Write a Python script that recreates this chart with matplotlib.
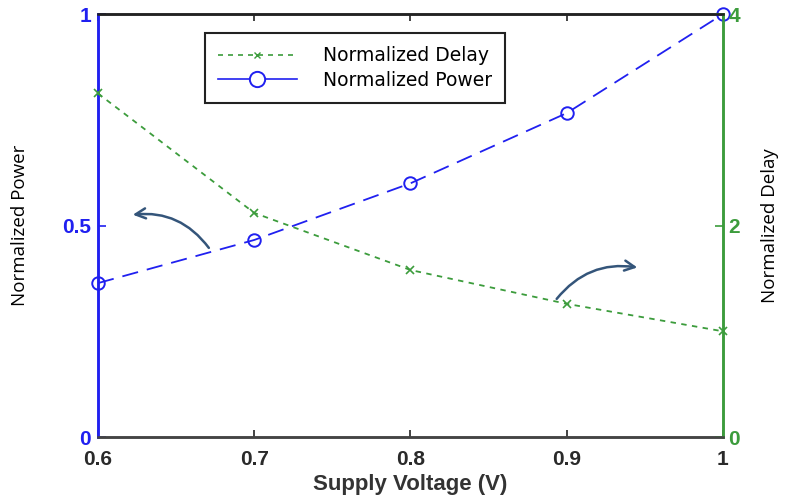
import numpy as np
import matplotlib.pyplot as plt
from matplotlib.lines import Line2D

# supply voltage sweep and normalised results
voltage = [0.6, 0.7, 0.8, 0.9, 1.0]
power = [0.364, 0.466, 0.600, 0.766, 1.0]
delay = [3.25, 2.12, 1.58, 1.26, 1.00]

blue = "#2020f0"
green = "#3c9c3c"
arrow_col = "#34557a"

plt.rcParams["font.family"] = ["Liberation Sans", "DejaVu Sans"]

fig = plt.figure(figsize=(7.86, 5.01), dpi=100)
ax = fig.add_axes([0.1247, 0.1277, 0.795, 0.844])
ax2 = ax.twinx()

# power on the left axis, long dashes with open circles
ax.plot(voltage, power, color=blue, lw=1.3, dashes=(9, 5),
        marker="o", ms=9, mfc="none", mec=blue, mew=1.4, clip_on=False, zorder=3)
# delay on the right axis, short dashes with crosses
ax2.plot(voltage, delay, color=green, lw=1.3, dashes=(3, 3),
         marker="x", ms=6, mec=green, mew=1.2, clip_on=False, zorder=3)

ax.set_xlim(0.6, 1.0)
ax.set_ylim(0, 1)
ax2.set_ylim(0, 4)

ax.set_xticks(voltage)
ax.set_xticklabels(["0.6", "0.7", "0.8", "0.9", "1"])
ax.set_yticks([0, 0.5, 1])
ax.set_yticklabels(["0", "0.5", "1"])
ax2.set_yticks([0, 2, 4])

tick_font = dict(fontsize=15, fontweight="bold")
for lbl in ax.get_xticklabels():
    lbl.set(color="#2a2a2a", **tick_font)
for lbl in ax.get_yticklabels():
    lbl.set(color=blue, **tick_font)
for lbl in ax2.get_yticklabels():
    lbl.set(color=green, **tick_font)

ax.tick_params(axis="x", direction="in", length=5, width=1.2, top=True,
               color="#222222", pad=9)
ax.tick_params(axis="y", direction="in", length=6, width=1.2, color=blue, pad=5)
ax2.tick_params(axis="y", direction="in", length=6, width=1.2, color=green, pad=4)

for a in (ax, ax2):
    a.spines["top"].set_color("#222222")
    a.spines["bottom"].set_color("#444444")
    a.spines["left"].set_color(blue)
    a.spines["right"].set_color(green)
    for side in ("top", "bottom", "left", "right"):
        a.spines[side].set_linewidth(1.8)

ax.set_xlabel("Supply Voltage (V)", fontsize=16, fontweight="bold",
              color="#333333", labelpad=4)
fig.text(0.026, 0.55, "Normalized Power", rotation=90, fontsize=13.5,
         ha="center", va="center", family=["Open Sans", "DejaVu Sans"])
fig.text(0.98, 0.55, "Normalized Delay", rotation=90, fontsize=13.5,
         ha="center", va="center", family=["Open Sans", "DejaVu Sans"])

# curved arrows pointing to each series' axis
ax.annotate("", xy=(0.6205, 0.525), xytext=(0.672, 0.442),
            arrowprops=dict(arrowstyle="->", color=arrow_col, lw=1.8,
                            connectionstyle="arc3,rad=0.3",
                            mutation_scale=18))
ax.annotate("", xy=(0.947, 0.40), xytext=(0.8925, 0.3215),
            arrowprops=dict(arrowstyle="->", color=arrow_col, lw=1.8,
                            connectionstyle="arc3,rad=-0.3",
                            mutation_scale=18))

handles = [
    Line2D([], [], color=green, lw=1.2, dashes=(3, 3), marker="x", ms=5,
           mec=green),
    Line2D([], [], color=blue, lw=1.2, marker="o", ms=11, mfc="white",
           mec=blue, mew=1.4),
]
leg = ax2.legend(handles, ["Normalized Delay", "Normalized Power"],
                 loc="upper left", bbox_to_anchor=(0.171, 0.955),
                 frameon=True, fancybox=False, edgecolor="#222222",
                 prop=dict(family="DejaVu Sans", size=13.5),
                 handlelength=4.2, borderpad=0.7, labelspacing=0.3,
                 handletextpad=1.4, borderaxespad=0, framealpha=1)
leg.get_frame().set_linewidth(1.5)

fig.savefig("out.png", dpi=100)
